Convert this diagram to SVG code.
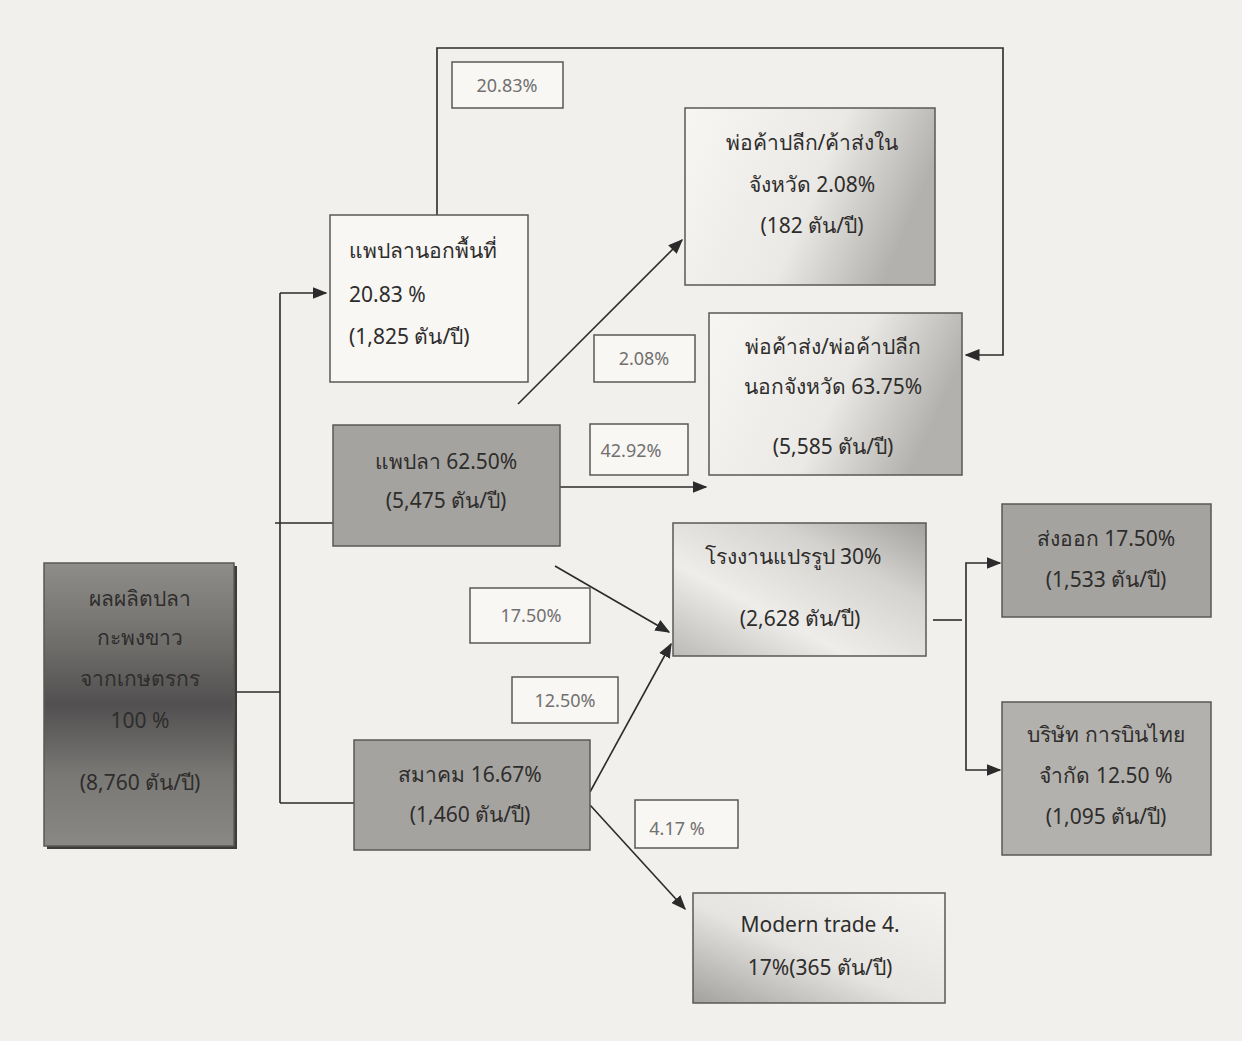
<svg xmlns="http://www.w3.org/2000/svg" width="1242" height="1041" viewBox="0 0 1242 1041">
<defs>
<linearGradient id="gSrc" x1="0" y1="0" x2="0" y2="1">
<stop offset="0" stop-color="#8f8d8a"/><stop offset="0.3" stop-color="#6e6c69"/><stop offset="0.5" stop-color="#525050"/><stop offset="0.75" stop-color="#7a7875"/><stop offset="1" stop-color="#8a8885"/>
</linearGradient>
<linearGradient id="gRight" x1="0" y1="0" x2="1" y2="0.3">
<stop offset="0" stop-color="#f7f6f3"/><stop offset="0.6" stop-color="#ebe9e5"/><stop offset="1" stop-color="#b3b1ad"/>
</linearGradient>
<linearGradient id="gMid" x1="0" y1="1" x2="1" y2="0">
<stop offset="0" stop-color="#bcbab6"/><stop offset="0.35" stop-color="#efedea"/><stop offset="0.7" stop-color="#d5d3cf"/><stop offset="1" stop-color="#a3a19d"/>
</linearGradient>
<linearGradient id="gMT" x1="0" y1="1" x2="1" y2="0">
<stop offset="0" stop-color="#a3a19d"/><stop offset="0.45" stop-color="#e6e4e0"/><stop offset="1" stop-color="#f4f3f0"/>
</linearGradient>
<marker id="ah" viewBox="0 0 10 10" refX="9" refY="5" markerWidth="15" markerHeight="12" orient="auto-start-reverse" markerUnits="userSpaceOnUse" preserveAspectRatio="none">
<path d="M0,0 L10,5 L0,10 z" fill="#2b2b2b"/>
</marker>
</defs>
<style>
.bx{stroke:#5a5856;stroke-width:1.5}
.gray{fill:#a5a39f}
.white{fill:#f8f7f4}
.t{font-family:"Noto Sans","DejaVu Sans","Liberation Sans",sans-serif;font-size:21px;fill:#2e2d2c}
.tc{text-anchor:middle}
.lb{font-family:"Noto Sans","DejaVu Sans","Liberation Sans",sans-serif;font-size:18px;fill:#727070;text-anchor:middle}
.ln{stroke:#2b2b2b;stroke-width:1.6;fill:none}
</style>
<rect width="1242" height="1041" fill="#f2f0ec"/>

<g id="connectors">
<polyline class="ln" points="234,692 280,692"/>
<polyline class="ln" points="280,293 280,803"/>
<polyline class="ln" points="280,293 326,293" marker-end="url(#ah)"/>
<polyline class="ln" points="275,523 333,523"/>
<polyline class="ln" points="280,803 354,803"/>
<polyline class="ln" points="437,215 437,48 1003,48 1003,355 966,355" marker-end="url(#ah)"/>
<line class="ln" x1="518" y1="404" x2="682" y2="240" marker-end="url(#ah)"/>
<line class="ln" x1="555" y1="487" x2="706" y2="487" marker-end="url(#ah)"/>
<line class="ln" x1="555" y1="566" x2="669" y2="632" marker-end="url(#ah)"/>
<line class="ln" x1="590" y1="792" x2="671" y2="644" marker-end="url(#ah)"/>
<line class="ln" x1="590" y1="805" x2="685" y2="909" marker-end="url(#ah)"/>
<polyline class="ln" points="933,620 962,620"/>
<polyline class="ln" points="1000,563 966,563 966,770 1000,770" marker-start="url(#ah)" marker-end="url(#ah)"/>
</g>

<g id="lbl-2083"><rect class="bx white" x="452" y="62" width="111" height="46"/><text class="lb" x="507" y="92">20.83%</text></g>
<g id="lbl-208"><rect class="bx white" x="594" y="335" width="101" height="47"/><text class="lb" x="644" y="365">2.08%</text></g>
<g id="lbl-4292"><rect class="bx white" x="590" y="424" width="98" height="51"/><text class="lb" x="631" y="457">42.92%</text></g>
<g id="lbl-1750"><rect class="bx white" x="470" y="588" width="120" height="55"/><text class="lb" x="531" y="622">17.50%</text></g>
<g id="lbl-1250"><rect class="bx white" x="512" y="677" width="106" height="46"/><text class="lb" x="565" y="707">12.50%</text></g>
<g id="lbl-417"><rect class="bx white" x="635" y="800" width="103" height="48"/><text class="lb" x="677" y="835">4.17 %</text></g>

<g id="n-source">
<rect x="47" y="566" width="190" height="283" fill="#3e3c3a"/>
<rect class="bx" x="44" y="563" width="190" height="283" fill="url(#gSrc)"/>
<text class="t tc" x="140" y="606">ผลผลิตปลา</text>
<text class="t tc" x="140" y="645">กะพงขาว</text>
<text class="t tc" x="140" y="686">จากเกษตรกร</text>
<text class="t tc" x="140" y="728">100  %</text>
<text class="t tc" x="140" y="790">(8,760 ตัน/ปี)</text>
</g>

<g id="n-outside-raft">
<rect class="bx white" x="330" y="215" width="198" height="167"/>
<text class="t" x="349" y="258">แพปลานอกพื้นที่</text>
<text class="t" x="349" y="302">20.83 %</text>
<text class="t" x="349" y="344">(1,825 ตัน/ปี)</text>
</g>

<g id="n-raft">
<rect class="bx gray" x="333" y="425" width="227" height="121"/>
<text class="t tc" x="446" y="469">แพปลา 62.50%</text>
<text class="t tc" x="446" y="508">(5,475 ตัน/ปี)</text>
</g>

<g id="n-assoc">
<rect class="bx gray" x="354" y="740" width="236" height="110"/>
<text class="t tc" x="470" y="782">สมาคม 16.67%</text>
<text class="t tc" x="470" y="822">(1,460 ตัน/ปี)</text>
</g>

<g id="n-retail-in">
<rect class="bx" x="685" y="108" width="250" height="177" fill="url(#gRight)"/>
<text class="t tc" x="812" y="150">พ่อค้าปลีก/ค้าส่งใน</text>
<text class="t tc" x="812" y="192">จังหวัด 2.08%</text>
<text class="t tc" x="812" y="233">(182 ตัน/ปี)</text>
</g>

<g id="n-wholesale-out">
<rect class="bx" x="709" y="313" width="253" height="162" fill="url(#gRight)"/>
<text class="t tc" x="833" y="354">พ่อค้าส่ง/พ่อค้าปลีก</text>
<text class="t tc" x="833" y="394">นอกจังหวัด 63.75%</text>
<text class="t tc" x="833" y="454">(5,585 ตัน/ปี)</text>
</g>

<g id="n-factory">
<rect class="bx" x="673" y="523" width="253" height="133" fill="url(#gMid)"/>
<text class="t tc" x="793" y="564">โรงงานแปรรูป 30%</text>
<text class="t tc" x="800" y="626">(2,628 ตัน/ปี)</text>
</g>

<g id="n-modern">
<rect class="bx" x="693" y="893" width="252" height="110" fill="url(#gMT)"/>
<text class="t tc" x="820" y="932">Modern trade 4.</text>
<text class="t tc" x="820" y="975">17%(365 ตัน/ปี)</text>
</g>

<g id="n-export">
<rect class="bx gray" x="1002" y="504" width="209" height="113"/>
<text class="t tc" x="1106" y="546">ส่งออก 17.50%</text>
<text class="t tc" x="1106" y="587">(1,533 ตัน/ปี)</text>
</g>

<g id="n-thai">
<rect class="bx" x="1002" y="702" width="209" height="153" fill="#b3b1ad"/>
<text class="t tc" x="1106" y="742">บริษัท การบินไทย</text>
<text class="t tc" x="1106" y="783">จำกัด 12.50 %</text>
<text class="t tc" x="1106" y="824">(1,095 ตัน/ปี)</text>
</g>
</svg>
